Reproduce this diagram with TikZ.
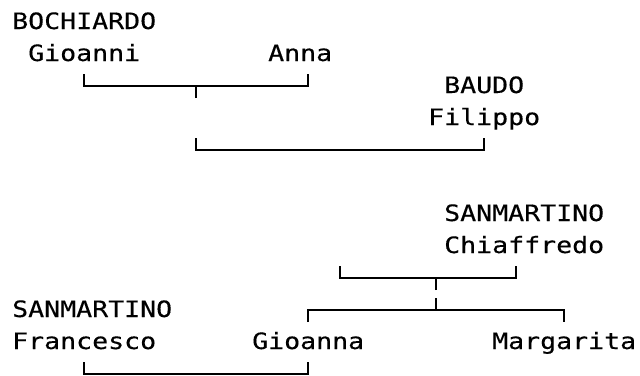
\documentclass[tikz,border=0pt]{standalone}
\usepackage{fontspec}
\usepackage{xcolor}
\usepackage{tikz}
\usetikzlibrary{calc}
\newfontfamily\treefont[FakeStretch=1.181,FakeBold=0.3]{DejaVu Sans Mono}

\begin{document}
\begin{tikzpicture}[
  x=1pt, y=1pt,
  person/.style={anchor=base west, inner sep=0pt, font=\treefont\fontsize{22.5pt}{32pt}\selectfont},
  link/.style={line width=2pt}
]
\useasboundingbox (0,0) rectangle (640,-375);

\node[person] (bochiardo) at (12,-29) {BOCHIARDO};
\node[person] (gioanni) at (28,-61) {Gioanni};
\node[person] (anna) at (268,-61) {Anna};
\node[person] (baudo) at (444,-93) {BAUDO};
\node[person] (filippo) at (428,-125) {Filippo};

\node[person] (sanmartinoC) at (444,-221) {SANMARTINO};
\node[person] (chiaffredo) at (444,-253) {Chiaffredo};
\node[person] (sanmartinoF) at (12,-317) {SANMARTINO};
\node[person] (francesco) at (12,-349) {Francesco};
\node[person] (gioanna) at (252,-349) {Gioanna};
\node[person] (margarita) at (492,-349) {Margarita};

\coordinate (gaStub) at (196,-98);
\coordinate (gaChild) at (196,-138);
\coordinate (chWife) at (340,-266);
\coordinate (chStub) at (436,-290);
\coordinate (chChild) at (436,-298);

% Gioanni + Anna
\draw[link] ([yshift=-13pt]gioanni.base) |- ([xshift=8pt,yshift=-25pt]anna.base) -- ([xshift=8pt,yshift=-13pt]anna.base);
\draw[link] (gaStub) -- ++(0,12);
% child + Filippo
\draw[link] (gaChild) |- ([yshift=-25pt]filippo.base) -- ([yshift=-13pt]filippo.base);

% Chiaffredo and children
\draw[link] (chWife) |- ([xshift=-8pt,yshift=-25pt]chiaffredo.base) -- ([xshift=-8pt,yshift=-13pt]chiaffredo.base);
\draw[link] (chStub) -- ++(0,12);
\draw[link] (chChild) -- ++(0,-12);
\draw[link] ([yshift=27pt]gioanna.base) |- ([yshift=39pt]margarita.base) -- ([yshift=27pt]margarita.base);

% Francesco + Gioanna
\draw[link] ([yshift=-13pt]francesco.base) |- ([yshift=-25pt]gioanna.base) -- ([yshift=-13pt]gioanna.base);

\end{tikzpicture}
\end{document}
